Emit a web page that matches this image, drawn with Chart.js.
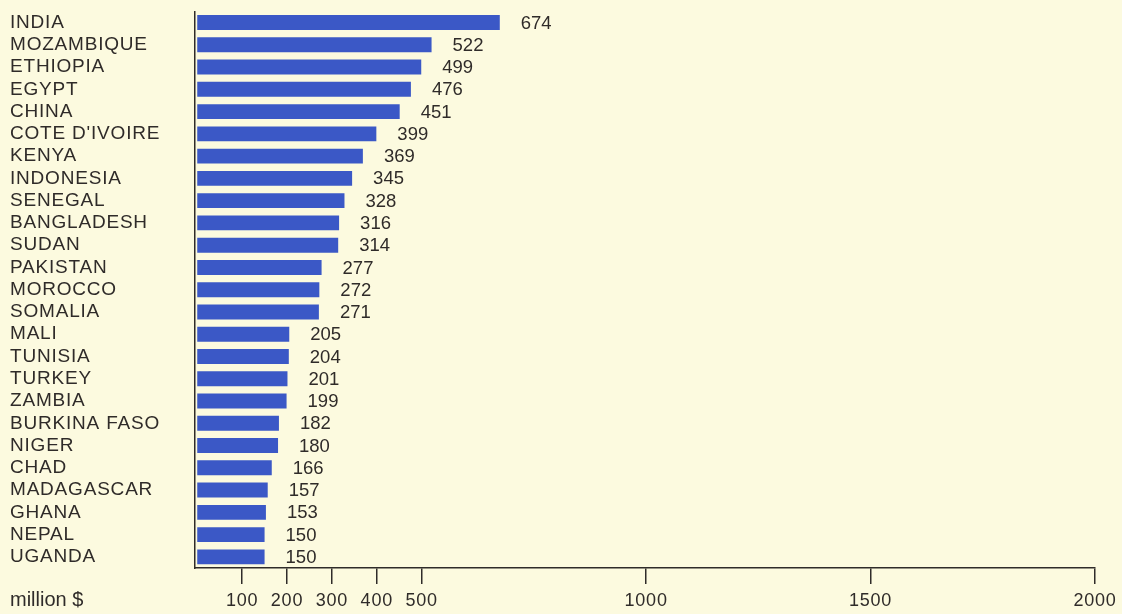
<!DOCTYPE html>
<html>
<head>
<meta charset="utf-8">
<script src="https://cdn.jsdelivr.net/npm/chart.js@4/dist/chart.umd.min.js"></script>
<style>
  html, body { margin: 0; padding: 0; background: #fcfadf; }
  #wrap { width: 1122px; height: 614px; }
</style>
</head>
<body>
<div id="wrap"><canvas id="chartUI"></canvas></div>
<script>
// podaci
var countries = ["INDIA", "MOZAMBIQUE", "ETHIOPIA", "EGYPT", "CHINA", "COTE D'IVOIRE", "KENYA",
  "INDONESIA", "SENEGAL", "BANGLADESH", "SUDAN", "PAKISTAN", "MOROCCO", "SOMALIA", "MALI",
  "TUNISIA", "TURKEY", "ZAMBIA", "BURKINA FASO", "NIGER", "CHAD", "MADAGASCAR", "GHANA",
  "NEPAL", "UGANDA"];
var aidValues = [674, 522, 499, 476, 451, 399, 369, 345, 328, 316, 314, 277, 272, 271, 205,
  204, 201, 199, 182, 180, 166, 157, 153, 150, 150];
var tickValues = [100, 200, 300, 400, 500, 1000, 1500, 2000];
var unitLabel = "million $";

var textColor = "#2f2b29";
var fontFamily = "'Liberation Sans', Arial, sans-serif";

// natpisi vrednosti pored stubica + jedinica
var valueLabels = {
  id: "valueLabels",
  beforeDraw: function(chart) {
    chart.ctx.letterSpacing = "0.8px"; // zemlje su malo sire u originalu
  },
  afterDatasetsDraw: function(chart) {
    var c = chart.ctx;
    var meta = chart.getDatasetMeta(0);
    c.save();
    c.letterSpacing = "0px";
    c.font = "18.5px " + fontFamily;
    c.fillStyle = textColor;
    c.textAlign = "left";
    c.textBaseline = "middle";
    meta.data.forEach(function(bar, i) {
      c.fillText(String(aidValues[i]), bar.x + 21, bar.y + 1);
    });
    c.font = "20px " + fontFamily;
    c.fillText(unitLabel, 10, 600);
    c.restore();
  }
};

var ctx = document.getElementById("chartUI");
var chart = new Chart(ctx, {
  type: "bar",
  data: {
    labels: countries,
    datasets: [{
      data: aidValues,
      backgroundColor: "#3b58c6",
      borderWidth: 0,
      barPercentage: 0.67,
      categoryPercentage: 1
    }]
  },
  options: {
    indexAxis: "y",
    responsive: true,
    maintainAspectRatio: false,
    animation: false,
    layout: { padding: { left: 10, right: 27, top: 5, bottom: 0 } },
    plugins: { legend: { display: false }, tooltip: { enabled: false } },
    scales: {
      x: {
        min: -5,
        max: 2000,
        afterBuildTicks: function(scale) {
          scale.ticks = tickValues.map(function(v) { return { value: v }; });
        },
        afterFit: function(scale) { scale.height = 46; },
        grid: { drawOnChartArea: false, drawTicks: true, tickLength: 16, color: textColor, lineWidth: 1.5 },
        border: { display: true, color: textColor, width: 1.5 },
        ticks: {
          color: textColor, font: { family: fontFamily, size: 18 }, padding: 6, maxRotation: 0, autoSkip: false,
          callback: function(v) { return String(v); }
        }
      },
      y: {
        afterFit: function(scale) { scale.width = 185; },
        grid: { display: false },
        border: { display: true, color: textColor, width: 1.5 },
        ticks: { color: textColor, crossAlign: "far", padding: 0, font: { family: fontFamily, size: 19 }, autoSkip: false }
      }
    }
  },
  plugins: [valueLabels]
});
</script>
</body>
</html>
